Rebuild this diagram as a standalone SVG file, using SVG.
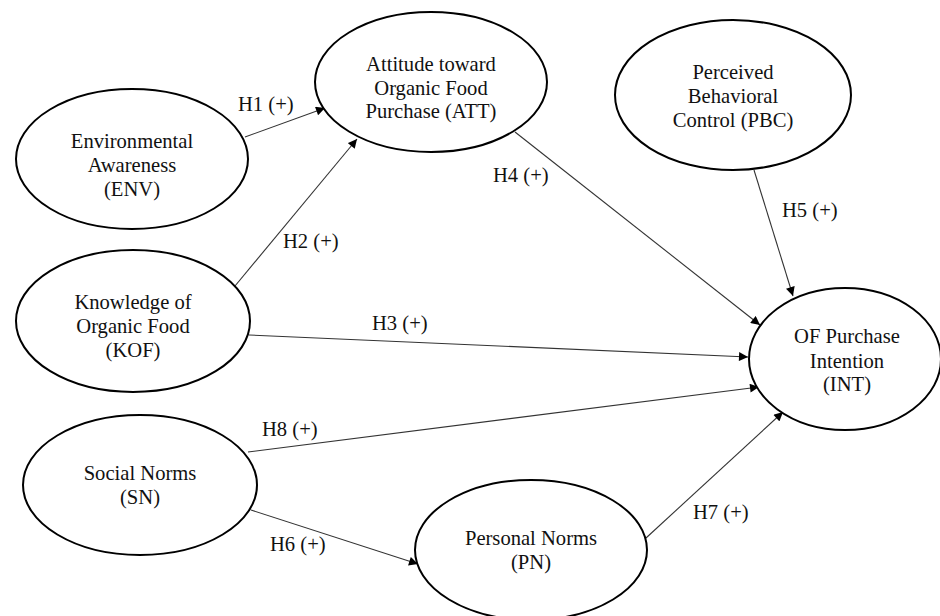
<svg xmlns="http://www.w3.org/2000/svg" width="940" height="616" viewBox="0 0 940 616">
<style>
.node ellipse{fill:#fff;stroke:#000;stroke-width:2}
.node text{text-anchor:middle}
.edges line{stroke:#333;stroke-width:1.1;marker-end:url(#arr)}
</style>
<defs>
<marker id="arr" viewBox="0 0 10 10" refX="10" refY="5" markerWidth="10" markerHeight="9" markerUnits="userSpaceOnUse" orient="auto">
<path d="M0,0 L10,5 L0,10 z" fill="#000"/>
</marker>
</defs>
<rect width="940" height="616" fill="#fff"/>
<g class="edges">
<line x1="245" y1="137" x2="325" y2="108"/>
<line x1="235" y1="286" x2="357" y2="139"/>
<line x1="249" y1="335" x2="748" y2="357"/>
<line x1="515" y1="132" x2="760" y2="325"/>
<line x1="754" y1="170" x2="793" y2="296"/>
<line x1="251" y1="510" x2="418" y2="564"/>
<line x1="646" y1="538" x2="783" y2="412"/>
<line x1="248" y1="452" x2="759" y2="387"/>
</g>
<g font-family="Liberation Serif, Times New Roman, serif" font-size="20.6" fill="#111">
<g class="labels">
<text x="238" y="111">H1 (+)</text>
<text x="283" y="248">H2 (+)</text>
<text x="372" y="330">H3 (+)</text>
<text x="493" y="182">H4 (+)</text>
<text x="782" y="217">H5 (+)</text>
<text x="270" y="551">H6 (+)</text>
<text x="693" y="519">H7 (+)</text>
<text x="262" y="436">H8 (+)</text>
</g>
<g class="node" id="ENV">
<ellipse cx="132" cy="159" rx="116" ry="70"/>
<text x="132" y="148">Environmental</text>
<text x="132" y="172">Awareness</text>
<text x="132" y="196">(ENV)</text>
</g>
<g class="node" id="ATT">
<ellipse cx="431" cy="82" rx="116" ry="70"/>
<text x="431" y="71">Attitude toward</text>
<text x="431" y="95">Organic Food</text>
<text x="431" y="118">Purchase (ATT)</text>
</g>
<g class="node" id="PBC">
<ellipse cx="733" cy="95" rx="118" ry="75"/>
<text x="733" y="79">Perceived</text>
<text x="733" y="103">Behavioral</text>
<text x="733" y="127">Control (PBC)</text>
</g>
<g class="node" id="KOF">
<ellipse cx="133" cy="321" rx="117" ry="71"/>
<text x="133" y="309">Knowledge of</text>
<text x="133" y="333">Organic Food</text>
<text x="133" y="357">(KOF)</text>
</g>
<g class="node" id="SN">
<ellipse cx="140" cy="485" rx="117" ry="70"/>
<text x="140" y="480">Social Norms</text>
<text x="140" y="504">(SN)</text>
</g>
<g class="node" id="PN">
<ellipse cx="531" cy="550" rx="116" ry="70"/>
<text x="531" y="545">Personal Norms</text>
<text x="531" y="569">(PN)</text>
</g>
<g class="node" id="INT">
<ellipse cx="845" cy="359" rx="96" ry="71"/>
<text x="847" y="343">OF Purchase</text>
<text x="847" y="368">Intention</text>
<text x="847" y="391">(INT)</text>
</g>
</g>
</svg>
